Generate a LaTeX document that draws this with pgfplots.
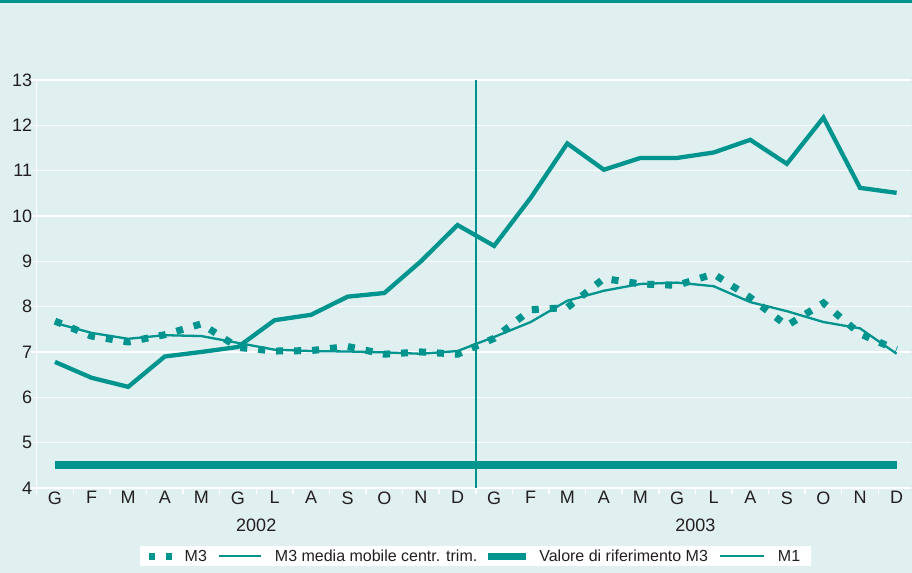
\documentclass[border=0pt]{standalone}
\usepackage{pgfplots}
\pgfplotsset{compat=1.18}
\usepackage{fontspec}
\setmainfont{Liberation Sans}
\definecolor{teal1}{RGB}{0,148,143}
\definecolor{bgc}{RGB}{224,239,239}
\definecolor{txt}{RGB}{35,31,32}

\begin{document}
\begin{tikzpicture}[x=1pt,y=1pt]
% background and top band
\fill[bgc] (-36.7,-85) rectangle (875.3,488);
\fill[teal1] (-36.7,484.5) rectangle (875.3,488);
\begin{axis}[
  at={(0,0)}, anchor=south west,
  scale only axis, width=874.7pt, height=408pt,
  xmin=-0.5, xmax=23.4, ymin=4, ymax=13,
  clip=false,
  axis x line*=bottom, axis y line*=left,
  axis line style={white, line width=1.5pt, -},
  ytick={4,...,13},
  minor ytick={4,...,13},
  ymajorgrids, grid style={white, line width=1.3pt},
  xtick={0,...,23},
  xticklabels={G,F,M,A,M,G,L,A,S,O,N,D,G,F,M,A,M,G,L,A,S,O,N,D},
  minor xtick={-0.5,0.5,...,22.5},
  major tick length=0pt, minor tick length=6pt,
  tick align=outside,
  tick style={white, line width=1.5pt},
  /pgf/number format/assume math mode=true,
  ticklabel style={font=\fontsize{18}{20}\selectfont, text=txt},
  yticklabel style={xshift=-1pt},
  legend columns=4,
  legend style={at={(0.5017,-0.1679)}, anchor=center, draw=none, fill=white,
    font=\fontsize{16}{18}\selectfont, text=txt, inner ysep=1.5pt, inner xsep=9pt,
    /tikz/every even column/.append style={column sep=9pt},
    /tikz/every odd column/.append style={column sep=11pt}},
]
% M3
\addplot[teal1, line width=7pt, line cap=butt, dash pattern=on 7pt off 11pt,
  legend image code/.code={\path[fill=teal1, draw=none, solid] (0pt,-3.5pt) rectangle (6pt,3.5pt);
    \path[fill=teal1, draw=none, solid] (17pt,-3.5pt) rectangle (23pt,3.5pt);}]
  coordinates {(0,7.68) (1,7.35) (2,7.22) (3,7.38) (4,7.62) (5,7.1) (6,7.02)
  (7,7.03) (8,7.12) (9,6.95) (10,7.0) (11,6.95) (12,7.3) (13,7.93) (14,7.98)
  (15,8.62) (16,8.5) (17,8.47) (18,8.72) (19,8.2) (20,7.58) (21,8.08) (22,7.4) (23,7.05)};
\addlegendentry{M3}
% moving average
\addplot[teal1, line width=2.3pt,
  legend image code/.code={\draw[teal1, line width=2pt] (0pt,0pt) -- (42pt,0pt);}]
  coordinates {(0,7.64) (1,7.42) (2,7.29) (3,7.37) (4,7.35) (5,7.2) (6,7.05)
  (7,7.02) (8,7.01) (9,6.99) (10,6.96) (11,7.02) (12,7.33) (13,7.66) (14,8.13)
  (15,8.35) (16,8.5) (17,8.53) (18,8.45) (19,8.1) (20,7.9) (21,7.66) (22,7.52) (23,6.96)};
\addlegendentry{M3 media mobile centr. trim.}
% reference value
\addplot[teal1, line width=8pt,
  legend image code/.code={\path[fill=teal1, draw=none] (0pt,-3.5pt) rectangle (38pt,3.5pt);}]
  coordinates {(0,4.5) (23,4.5)};
\addlegendentry{Valore di riferimento M3}
% M1
\addplot[teal1, line width=4.3pt,
  legend image code/.code={\draw[teal1, line width=2pt] (0pt,0pt) -- (44pt,0pt);}]
  coordinates {(0,6.78) (1,6.43) (2,6.23) (3,6.9) (4,7.0) (5,7.11) (6,7.7)
  (7,7.82) (8,8.22) (9,8.3) (10,9.0) (11,9.8) (12,9.34) (13,10.4) (14,11.6)
  (15,11.02) (16,11.28) (17,11.28) (18,11.4) (19,11.68) (20,11.15) (21,12.17) (22,10.62) (23,10.51)};
\addlegendentry{M1}
\draw[teal1, line width=2pt] (axis cs:11.5,4) -- (axis cs:11.5,13);
\node[font=\fontsize{18}{20}\selectfont, text=txt] at (axis cs:5.5,4) [yshift=-37pt] {2002};
\node[font=\fontsize{18}{20}\selectfont, text=txt] at (axis cs:17.5,4) [yshift=-37pt] {2003};
\end{axis}
\end{tikzpicture}
\end{document}
